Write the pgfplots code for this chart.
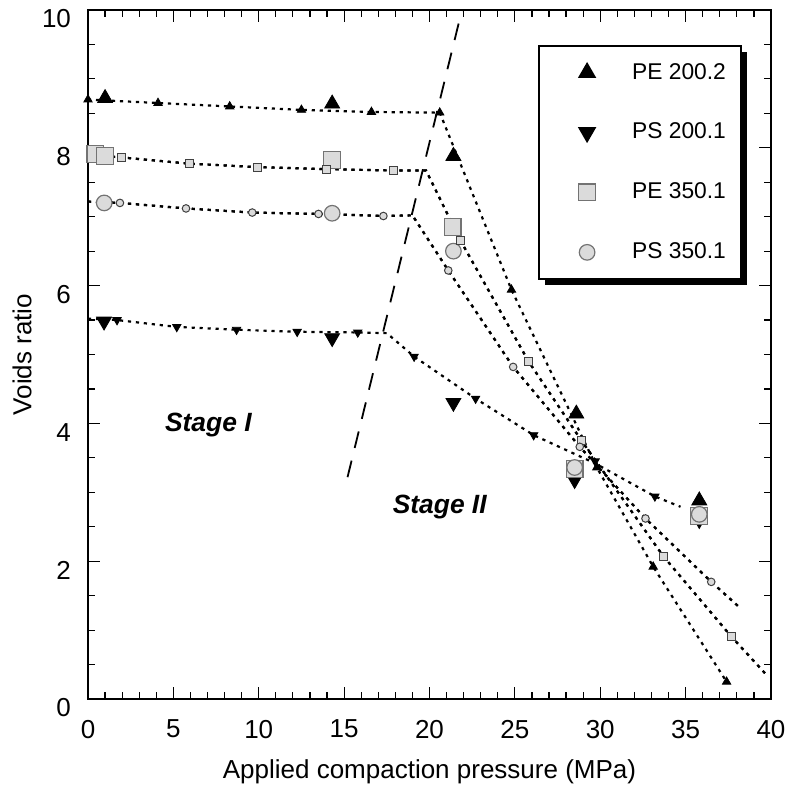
\documentclass[border=0pt]{standalone}
\usepackage{fontspec}
\setmainfont{Liberation Sans}
\usepackage{pgfplots}
\pgfplotsset{compat=1.18}
\usetikzlibrary{shadows}

\definecolor{markgray}{gray}{0.86}
\definecolor{edgegray}{gray}{0.45}

\pgfplotsset{
  fitline/.style={black, line width=1.1pt, dash pattern=on 1.6pt off 2.4pt, no marks, forget plot},
  smallmark/.style={only marks, forget plot, mark size=#1},
  peA/.style={mark=triangle*, mark options={fill=black, draw=black}},
  psA/.style={mark=triangle*, mark options={fill=black, draw=black, rotate=180}},
  peB/.style={mark=square*, mark options={fill=markgray, draw=edgegray, line width=0.6pt}},
  psB/.style={mark=*, mark options={fill=markgray, draw=edgegray, line width=0.6pt}},
  peBs/.style={mark=square*, mark options={fill=markgray, draw=black!75, line width=0.5pt}},
  psBs/.style={mark=*, mark options={fill=markgray, draw=black!75, line width=0.5pt}},
}

\begin{document}
\begin{tikzpicture}
\path[use as bounding box] (-44pt,-47pt) rectangle (348.5pt,349.5pt);
\begin{axis}[
  at={(0,0)}, anchor=south west,
  scale only axis, width=341.5pt, height=344.5pt,
  xmin=0, xmax=40, ymin=0, ymax=10,
  xtick={0,5,...,40}, ytick={0,2,...,10},
  minor x tick num=4, minor y tick num=3,
  tick align=inside, major tick length=6pt, minor tick length=3.5pt,
  tick style={black, line width=0.6pt},
  axis line style={line width=0.8pt},
  font=\fontsize{13}{15}\selectfont,
  /pgf/number format/assume math mode=true,
  xticklabel style={yshift=-7pt},
  yticklabel style={xshift=-5pt, yshift=-4.5pt},
  xlabel={Applied compaction pressure (MPa)},
  ylabel={Voids ratio},
  xlabel style={at={(axis description cs:0.5,0)}, anchor=center, yshift=-36.5pt},
  ylabel style={at={(axis description cs:0,0.5)}, anchor=center, rotate=0, yshift=33pt},
  legend cell align=left,
  legend image code/.code={\path (0pt,-4pt) (30pt,4pt); \draw[#1] plot coordinates {(16pt,0pt)};},
  legend style={at={(0.659,0.949)}, anchor=north west, draw=black, line width=1pt,
    fill=white, drop shadow={opacity=1, fill=black, shadow xshift=3pt, shadow yshift=-3pt},
    font=\fontsize{11.4}{13}\selectfont, inner xsep=7.5pt, inner ysep=8.5pt,
    row sep=20.5pt, column sep=8pt, nodes={inner sep=0pt}},
]

% fitted curves
\addplot[fitline] coordinates {(0,8.70) (4.1,8.65) (8.3,8.60) (12.5,8.55) (16.6,8.52) (20.6,8.51) (24.8,5.94) (29.8,3.36) (33.1,1.92) (37.4,0.25)};
\addplot[fitline] coordinates {(0,5.52) (1.7,5.50) (5.2,5.40) (8.7,5.36) (12.25,5.33) (15.8,5.32) (17.5,5.31) (19.1,4.97) (22.7,4.36) (26.1,3.83) (29.7,3.42) (33.2,2.94) (34.7,2.79)};
\addplot[fitline] coordinates {(0,7.90) (1.97,7.86) (5.93,7.77) (9.9,7.72) (13.97,7.69) (17.9,7.67) (19.8,7.67) (21.8,6.66) (25.8,4.90) (28.9,3.75) (33.7,2.07) (37.7,0.90) (39.7,0.36)};
\addplot[fitline] coordinates {(0,7.22) (1.87,7.20) (5.74,7.12) (9.62,7.06) (13.5,7.04) (17.3,7.01) (19.0,7.02) (21.1,6.22) (24.9,4.82) (28.8,3.66) (32.65,2.62) (36.5,1.70) (38.2,1.32)};

% stage boundary
\addplot[black, line width=0.9pt, dash pattern=on 8.5pt off 6.5pt, forget plot] coordinates {(15.2,3.22) (21.9,10)};

% measured points
\addplot[peA, only marks, mark size=4.3pt] coordinates {(1.0,8.72) (14.3,8.64) (21.4,7.88) (28.6,4.14) (35.8,2.88)};
\addlegendentry{PE 200.2}
\addplot[psA, only marks, mark size=4.3pt] coordinates {(0.94,5.48) (14.3,5.24) (21.4,4.30) (28.5,3.18) (35.8,2.60)};
\addlegendentry{PS 200.1}
\addplot[peB, only marks, mark size=4.2pt] coordinates {(0.43,7.91) (1.0,7.88) (14.3,7.82) (21.35,6.85) (28.5,3.34) (35.8,2.66)};
\addlegendentry{PE 350.1}
\addplot[psB, only marks, mark size=3.9pt] coordinates {(0.95,7.20) (14.3,7.05) (21.4,6.50) (28.5,3.36) (35.8,2.68)};
\addlegendentry{PS 350.1}

% points on the fitted curves
\addplot[peA, smallmark=2.4pt] coordinates {(0,8.70) (4.1,8.65) (8.3,8.60) (12.5,8.55) (16.6,8.52) (20.6,8.51) (24.8,5.94) (29.8,3.36) (33.1,1.92) (37.4,0.25)};
\addplot[psA, smallmark=2.4pt] coordinates {(1.7,5.50) (5.2,5.40) (8.7,5.36) (12.25,5.33) (15.8,5.32) (19.1,4.97) (22.7,4.36) (26.1,3.83) (29.7,3.45) (33.2,2.94)};
\addplot[peBs, smallmark=2.0pt] coordinates {(1.97,7.86) (5.93,7.77) (9.9,7.72) (13.97,7.69) (17.9,7.67) (21.8,6.66) (25.8,4.90) (28.9,3.75) (33.7,2.07) (37.7,0.90)};
\addplot[psBs, smallmark=1.9pt] coordinates {(1.87,7.20) (5.74,7.12) (9.62,7.06) (13.5,7.04) (17.3,7.01) (21.1,6.22) (24.9,4.82) (28.8,3.66) (32.65,2.62) (36.5,1.70)};

% curves drawn again over the small points
\addplot[fitline] coordinates {(0,7.90) (1.97,7.86) (5.93,7.77) (9.9,7.72) (13.97,7.69) (17.9,7.67) (19.8,7.67) (21.8,6.66) (25.8,4.90) (28.9,3.75) (33.7,2.07) (37.7,0.90) (39.7,0.36)};
\addplot[fitline] coordinates {(0,7.22) (1.87,7.20) (5.74,7.12) (9.62,7.06) (13.5,7.04) (17.3,7.01) (19.0,7.02) (21.1,6.22) (24.9,4.82) (28.8,3.66) (32.65,2.62) (36.5,1.70) (38.2,1.32)};

\node[font=\bfseries\itshape\fontsize{13.2}{15}\selectfont] at (axis cs:7.05,3.98) {Stage I};
\node[font=\bfseries\itshape\fontsize{13.2}{15}\selectfont] at (axis cs:20.6,2.79) {Stage II};
\end{axis}
\end{tikzpicture}
\end{document}
